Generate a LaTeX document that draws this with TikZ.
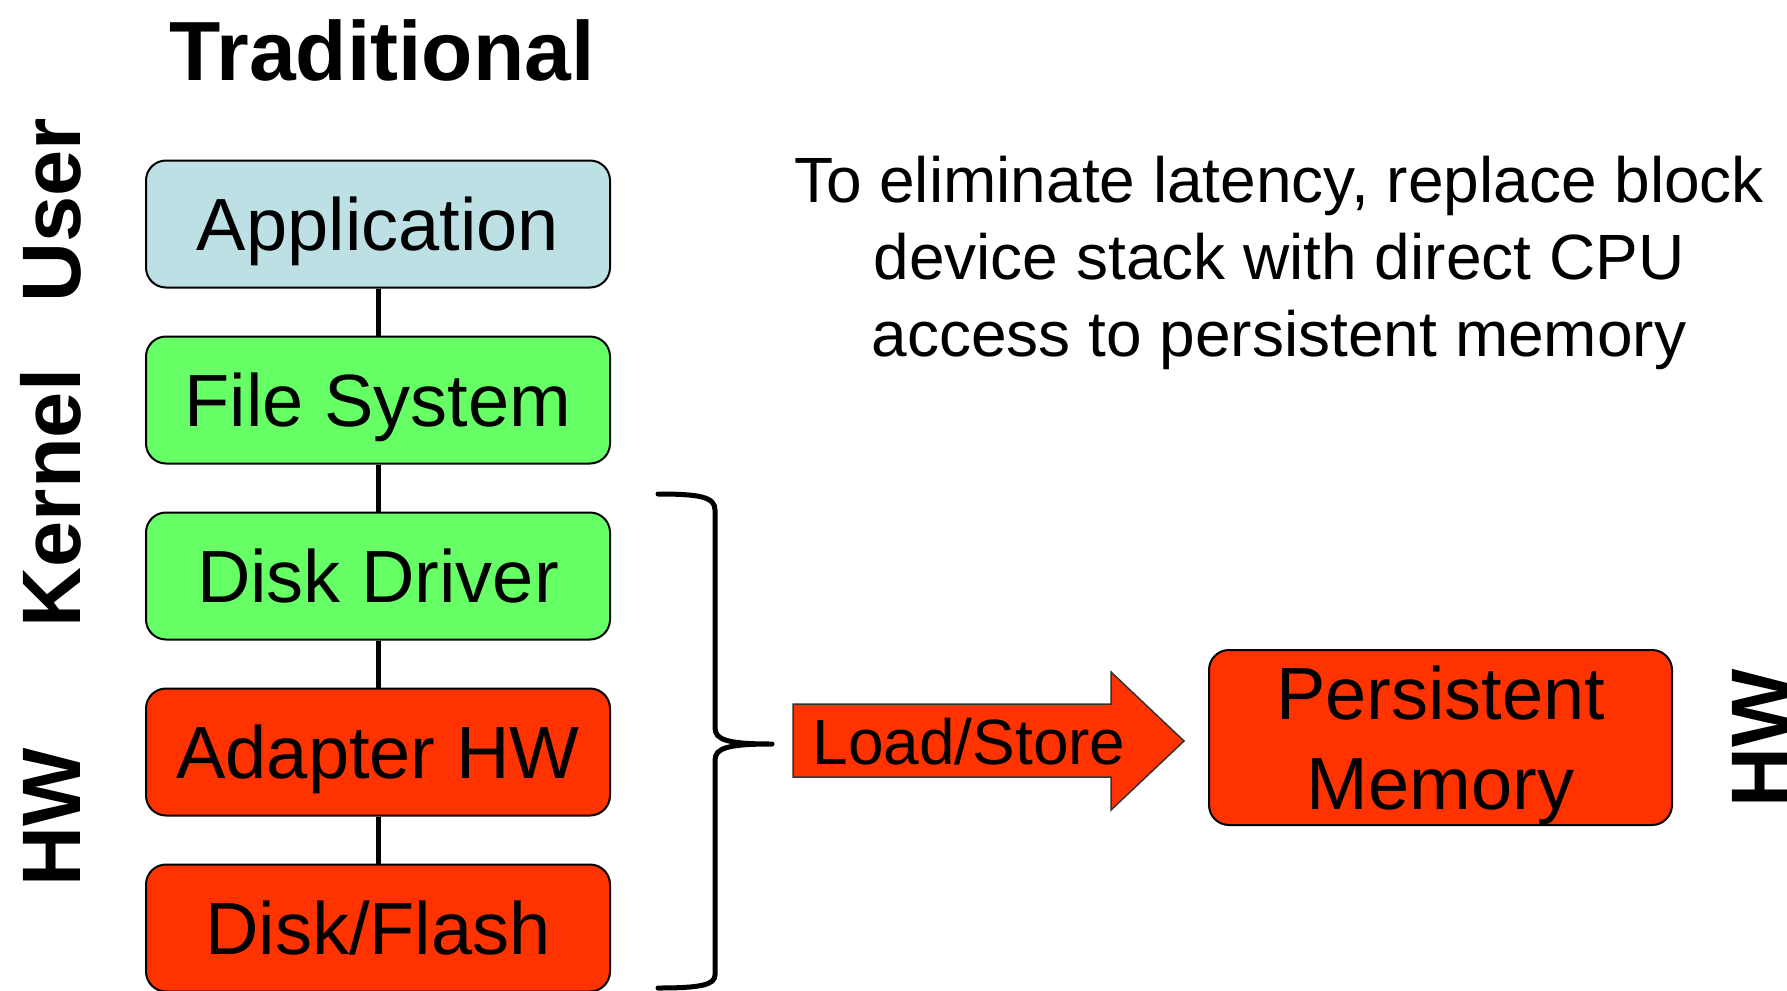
\documentclass[tikz,border=0pt]{standalone}
\usepackage{fontspec}
\setmainfont{Liberation Sans}
\definecolor{userblue}{RGB}{189,224,228}
\definecolor{kerngreen}{RGB}{102,255,102}
\definecolor{hwred}{RGB}{255,51,0}
\begin{document}
\begin{tikzpicture}[x=1pt,y=-1pt,
  layer/.style={draw=black, line width=2pt, rounded corners=20pt,
    minimum width=464pt, minimum height=127pt, inner sep=0pt,
    text height=53pt, text depth=0pt, font=\fontsize{74}{90}\selectfont},
  side/.style={rotate=90, inner sep=0pt, text height=59pt, text depth=0pt,
    font=\bfseries\fontsize{83}{100}\selectfont},
  link/.style={line width=5pt},
  brace/.style={line width=5pt, line cap=round, line join=round},
  bigarrow/.style={fill=hwred, draw=black!80, line width=1.5pt}]
\useasboundingbox (0,0) rectangle (1787,990);

% title
\node[anchor=base, inner sep=0pt, font=\bfseries\fontsize{84}{100}\selectfont]
  (title) at (382,80) {Traditional};

% layer labels
\node[side] (user) at (51,210) {User};
\node[side] (kernel) at (51,498) {Kernel};
\node[side] (hwl) at (51,817) {HW};
\node[side] (hwr) at (1760,738) {HW};

% traditional block device stack
\node[layer, fill=userblue]  (app)  at (378,224) {Application};
\node[layer, fill=kerngreen] (fs)   at (378,400) {File System};
\node[layer, fill=kerngreen] (drv)  at (378,576) {Disk Driver};
\node[layer, fill=hwred]     (adp)  at (378,752) {Adapter HW};
\node[layer, fill=hwred]     (disk) at (378,928) {Disk/Flash};

\draw[link] (app.south) -- (fs.north);
\draw[link] (fs.south) -- (drv.north);
\draw[link] (drv.south) -- (adp.north);
\draw[link] (adp.south) -- (disk.north);

% explanation
\node[anchor=north, inner sep=0pt, align=center,
  font=\fontsize{64}{77}\selectfont] (note) at (1279,156)
  {To eliminate latency, replace block\\device stack with direct CPU\\access to persistent memory};

% brace over the lower layers
\coordinate (btop) at (658,494);
\coordinate (btip) at (772,744);
\coordinate (bbot) at (658,988);
\draw[brace] (btop) .. controls (700,494) and (715,497) .. (715,510)
  -- (715,728) .. controls (715,740) and (728,744) .. (btip)
  .. controls (728,744) and (715,748) .. (715,760)
  -- (715,975) .. controls (715,985) and (700,988) .. (bbot);

% load/store arrow
\draw[bigarrow] (793,704) -- (1111,704) -- (1111,672) -- (1184,741)
  -- (1111,810) -- (1111,777) -- (793,777) -- cycle;
\node[inner sep=0pt, text height=46pt, text depth=0pt,
  font=\fontsize{64}{77}\selectfont] (ls) at (969,741.5) {Load/Store};

% persistent memory (two lines: height runs to the second baseline)
\node[layer, fill=hwred, minimum width=463pt, minimum height=175pt,
  align=center, text height=143pt, text depth=0pt]
  (pm) at (1440.5,737.5) {Persistent\\Memory};
\end{tikzpicture}
\end{document}
